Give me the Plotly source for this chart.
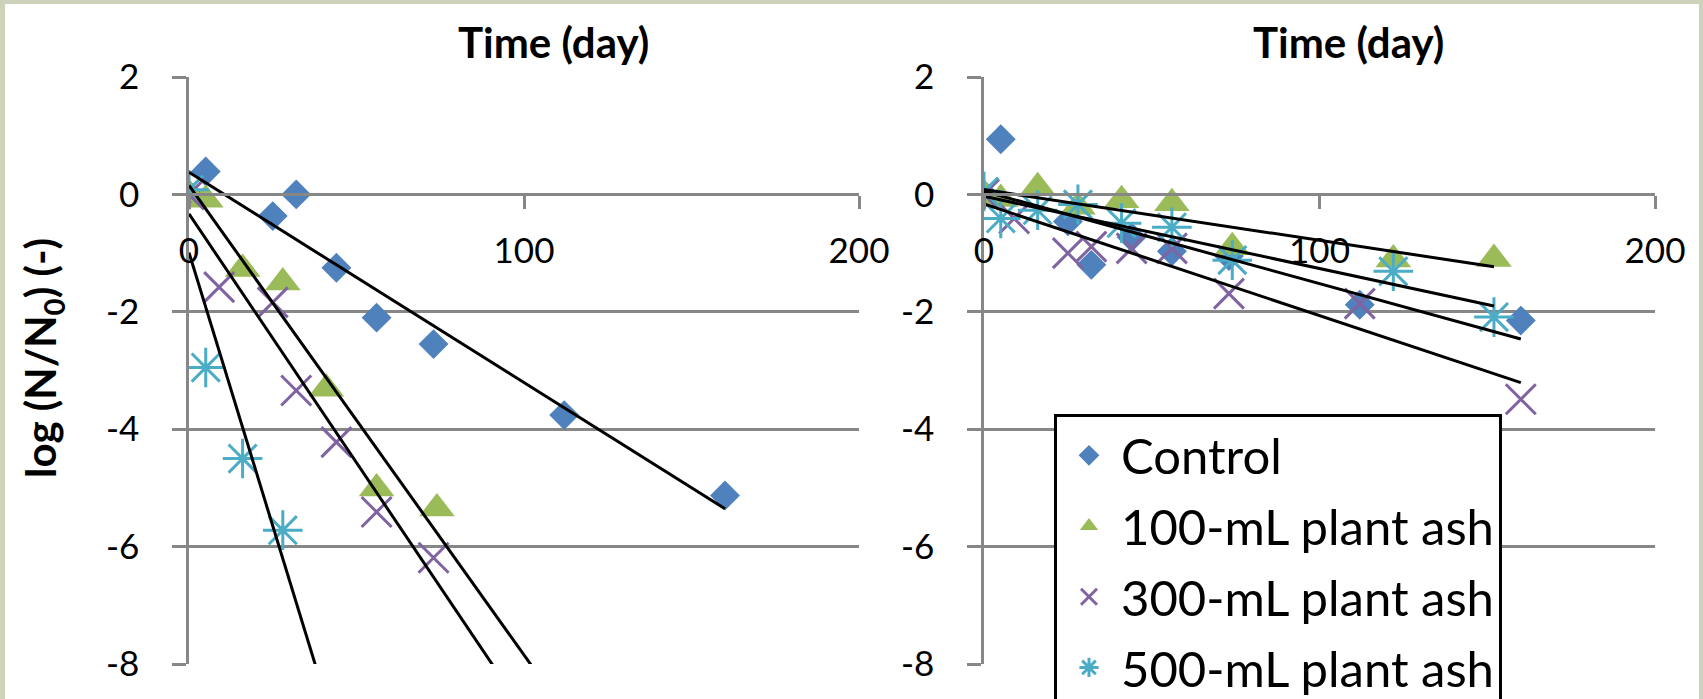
import numpy as np
import plotly.graph_objects as go

# ---------------- data ----------------
series_names = ["Control", "100-mL plant ash", "300-mL plant ash", "500-mL plant ash"]

# Left panel
left_control_t = [0, 5, 25, 32, 44, 56, 73, 112, 160]
left_control_v = [0, 0.39, -0.37, 0, -1.25, -2.10, -2.55, -3.76, -5.13]
left_100_t = [0, 5, 16, 28, 41, 56, 74]
left_100_v = [0, -0.09, -1.27, -1.50, -3.31, -5.01, -5.35]
left_300_t = [0, 9, 25, 32, 44, 56, 73]
left_300_v = [0, -1.58, -1.84, -3.34, -4.22, -5.41, -6.19]
left_500_t = [0, 5, 16, 28]
left_500_v = [0.08, -2.95, -4.50, -5.72]

# Right panel
right_control_t = [0, 5, 25, 32, 44, 56, 73, 112, 160]
right_control_v = [0, 0.94, -0.46, -1.20, -0.73, -0.97, -1.05, -1.88, -2.15]
right_100_t = [0, 5, 16, 28, 41, 56, 74, 122, 152]
right_100_v = [0, -0.08, 0.12, -0.21, -0.10, -0.15, -0.90, -1.11, -1.10]
right_300_t = [0, 9, 25, 32, 44, 56, 73, 112, 160]
right_300_v = [0, -0.41, -1.00, -0.89, -0.92, -0.92, -1.69, -1.86, -3.49]
right_500_t = [0, 5, 16, 28, 41, 56, 74, 122, 152]
right_500_v = [0.05, -0.41, -0.27, -0.17, -0.49, -0.56, -1.12, -1.31, -2.09]

# linear trendline forward forecast (days beyond the last sample)
left_trend_forward = [0, 50, 40, 25]
right_trend_forward = [0, 0, 0, 0]

x_ticks = [0, 100, 200]
x_tick_labels = ["0", "100", "200"]
y_ticks = [-8, -6, -4, -2, 0, 2]
y_tick_labels = ["-8", "-6", "-4", "-2", "0", "2"]
x_range = [0, 200]
y_range = [-8, 2]

# ---------------- styling ----------------
W, H = 1703, 699
FONT = "Lato"
GRID = "#878787"
BORDER = "#CDD3BB"
colors = ["#4F81BD", "#9BBB59", "#8064A2", "#4BACC6"]
symbols = ["diamond", "triangle-up", "x-thin-open", "asterisk-open"]
sizes = [23, 31, 30, 33]


def px_x(p):
    return p / W


def px_y(p):
    return 1 - p / H


left_dom = [px_x(189), px_x(859)]
right_dom = [px_x(984), px_x(1655)]
y_dom = [px_y(664), px_y(77)]
zero_pos = y_dom[0] + (0 - y_range[0]) / (y_range[1] - y_range[0]) * (y_dom[1] - y_dom[0])

left_data = [(left_control_t, left_control_v), (left_100_t, left_100_v),
             (left_300_t, left_300_v), (left_500_t, left_500_v)]
right_data = [(right_control_t, right_control_v), (right_100_t, right_100_v),
              (right_300_t, right_300_v), (right_500_t, right_500_v)]

fig = go.Figure()


def add_markers(data, xa, ya, show):
    for i, (t, v) in enumerate(data):
        fig.add_trace(go.Scatter(
            x=t, y=v, mode="markers", name=series_names[i],
            legendgroup=series_names[i], showlegend=show,
            xaxis=xa, yaxis=ya,
            marker=dict(symbol=symbols[i], size=sizes[i], color=colors[i],
                        line=dict(color=colors[i], width=3 if i >= 2 else 0)),
        ))


def add_trends(data, forward, xa, ya):
    for i, (t, v) in enumerate(data):
        slope, icpt = np.polyfit(np.array(t, float), np.array(v, float), 1)
        tt = np.array([0.0, max(t) + forward[i]])
        fig.add_trace(go.Scatter(
            x=tt, y=icpt + slope * tt, mode="lines", showlegend=False,
            legendgroup=series_names[i], hoverinfo="skip",
            xaxis=xa, yaxis=ya, line=dict(color="black", width=3),
        ))


add_markers(left_data, "x", "y", False)
add_markers(right_data, "x2", "y2", True)
add_trends(left_data, left_trend_forward, "x", "y")
add_trends(right_data, right_trend_forward, "x2", "y2")

tickfont = dict(family=FONT, size=35, color="black")


def xaxis(dom):
    return dict(domain=dom, range=x_range, tickvals=x_ticks, ticktext=x_tick_labels,
                showgrid=False, zeroline=False, showline=True, linecolor=GRID,
                linewidth=2.5, ticks="outside", ticklen=13, tickwidth=2.5,
                tickcolor=GRID, tickfont=tickfont, anchor="free", position=zero_pos,
                ticklabelstandoff=12, fixedrange=True)


def yaxis(xa):
    return dict(domain=y_dom, range=y_range, tickvals=y_ticks, ticktext=y_tick_labels,
                showgrid=True, gridcolor=GRID, gridwidth=2.5, zeroline=False,
                showline=True, linecolor=GRID, linewidth=2.5, ticks="outside",
                ticklen=14, tickwidth=2.5, tickcolor=GRID, tickfont=tickfont,
                anchor=xa, ticklabelstandoff=26, fixedrange=True)


title_font = dict(family=FONT, size=42, color="black")

fig.update_layout(
    width=W, height=H,
    margin=dict(l=0, r=0, t=0, b=0, autoexpand=False),
    paper_bgcolor=BORDER, plot_bgcolor="white",
    xaxis=xaxis(left_dom), yaxis=yaxis("x"),
    xaxis2=xaxis(right_dom), yaxis2=yaxis("x2"),
    showlegend=True,
    legend=dict(x=px_x(1054), y=px_y(414), xanchor="left", yanchor="top",
                bgcolor="white", bordercolor="black", borderwidth=3,
                font=dict(family=FONT, size=49, color="black"),
                itemwidth=54, tracegroupgap=4, traceorder="grouped"),
    shapes=[dict(type="rect", xref="paper", yref="paper", layer="below",
                 x0=px_x(5), x1=px_x(1699), y0=-0.05, y1=px_y(4),
                 fillcolor="white", line=dict(width=0))],
    annotations=[
        dict(text="<b>Time (day)</b>", xref="paper", yref="paper",
             x=px_x(553), y=px_y(42), showarrow=False, font=title_font,
             xanchor="center", yanchor="middle"),
        dict(text="<b>Time (day)</b>", xref="paper", yref="paper",
             x=px_x(1348), y=px_y(42), showarrow=False, font=title_font,
             xanchor="center", yanchor="middle"),
        dict(text="<b>log (N/N<sub>0</sub>) (-)</b>", xref="paper", yref="paper",
             x=px_x(43), y=px_y(358), showarrow=False, textangle=-90,
             font=dict(family=FONT, size=42, color="black"),
             xanchor="center", yanchor="middle"),
    ],
)

fig.write_html("out.html", config={"displayModeBar": False},
               post_script="document.body.style.margin='0';document.body.style.overflow='hidden';")
